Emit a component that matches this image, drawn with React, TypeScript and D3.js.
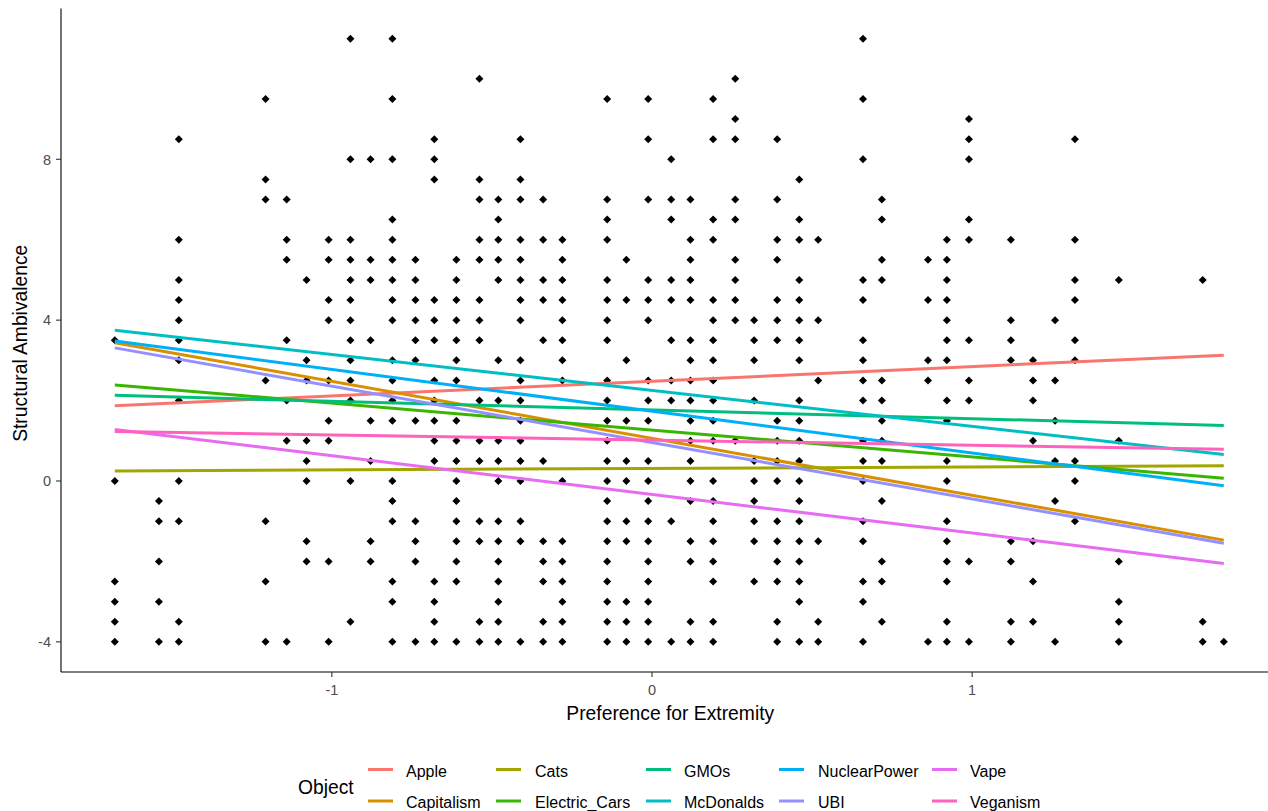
import React from "react";
import * as d3 from "d3";

// ---- Data ----
const objects = ["Apple", "Capitalism", "Cats", "Electric_Cars", "GMOs", "McDonalds", "NuclearPower", "UBI", "Vape", "Veganism"];
const objectColors = ["#F8766D", "#D89000", "#A3A500", "#39B600", "#00BF7D", "#00BFC4", "#00B0F6", "#9590FF", "#E76BF3", "#FF62BC"];

// fitted line endpoints (x range and y at both ends)
const lineXRange = [-1.678, 1.786];
const lineYStart = [1.87, 3.44, 0.25, 2.39, 2.13, 3.75, 3.48, 3.31, 1.28, 1.23];
const lineYEnd = [3.13, -1.47, 0.38, 0.07, 1.38, 0.66, -0.12, -1.55, -2.05, 0.79];

// scatter points: x column values and the y values observed in each column
const pointX = [
  -1.678, -1.540, -1.478, -1.207, -1.141, -1.079, -1.010, -0.942, -0.879, -0.811,
  -0.739, -0.680, -0.611, -0.539, -0.480, -0.411, -0.340, -0.280, -0.140, -0.080,
  -0.012, 0.060, 0.120, 0.191, 0.260, 0.319, 0.391, 0.460, 0.519, 0.659,
  0.718, 0.862, 0.921, 0.990, 1.121, 1.190, 1.259, 1.321, 1.458, 1.720, 1.786,
];
const pointY = [
  [3.5, 0, -2.5, -3, -3.5, -4],
  [-0.5, -1, -2, -3, -4],
  [8.5, 6, 5, 4.5, 4, 3.5, 3, 2, 0, -1, -3.5, -4],
  [9.5, 7.5, 7, 2.5, -1, -2.5, -4],
  [7, 6, 5.5, 3.5, 2, 1, -4],
  [5, 3, 2.5, 1, 0.5, 0, -1.5, -2],
  [6, 5.5, 4.5, 4, 2.5, 1.5, 1, -2, -4],
  [11, 8, 6, 5.5, 5, 4.5, 4, 3.5, 3, 2.5, 2, 0, -3.5],
  [8, 5.5, 5, 3.5, 1.5, 0.5, -1.5, -2],
  [11, 9.5, 8, 6.5, 6, 5.5, 5, 4.5, 4, 3, 2.5, 2, 1.5, 0, -0.5, -1, -2.5, -3, -4],
  [5.5, 5, 4.5, 4, 3.5, 3, 1.5, -1, -1.5, -2, -4],
  [8.5, 8, 7.5, 4.5, 4, 3.5, 2.5, 2, 1.5, 1, 0.5, -2.5, -3, -3.5, -4],
  [5.5, 5, 4.5, 4, 3.5, 3, 2.5, 1.5, 1, 0.5, 0, -0.5, -1, -1.5, -2, -2.5, -4],
  [10, 7.5, 7, 6, 5.5, 4.5, 4, 3.5, 2, 1, 0.5, -1, -1.5, -3.5, -4],
  [7, 6.5, 6, 5.5, 5, 3, 2, 1, 0.5, 0, -1, -1.5, -2, -2.5, -3, -3.5, -4],
  [8.5, 7.5, 7, 6, 5.5, 5, 4.5, 4, 3, 2.5, 2, 1.5, 1, 0.5, 0, -1, -1.5, -4],
  [7, 6, 5, 4.5, 3.5, 0.5, -1.5, -2, -2.5, -3.5, -4],
  [6, 5.5, 5, 4.5, 4, 3.5, 3, 2.5, 0, -1.5, -2, -2.5, -3, -3.5, -4],
  [9.5, 7, 6.5, 6, 5, 4.5, 4, 3.5, 2.5, 2, 1.5, 1, 0.5, 0, -0.5, -1, -1.5, -2, -2.5, -3, -3.5, -4],
  [5.5, 4.5, 3, 1.5, 0.5, 0, -1, -1.5, -3, -3.5, -4],
  [9.5, 8.5, 7, 5, 4.5, 4, 2.5, 2, 1.5, 0.5, 0, -0.5, -1, -1.5, -2, -2.5, -3, -3.5, -4],
  [8, 7, 6.5, 5, 4.5, 3.5, 2.5, 2, -1, -4],
  [7, 6, 5.5, 5, 4.5, 3.5, 3, 2.5, 2, 1.5, 1, 0.5, 0, -0.5, -1.5, -2, -3.5, -4],
  [9.5, 8.5, 6.5, 6, 4.5, 4, 3.5, 3, 2.5, 2, 1.5, 1, 0, -0.5, -1, -1.5, -2, -2.5, -3.5, -4],
  [10, 9, 8.5, 7, 6.5, 5.5, 5, 4.5, 4, 1],
  [4, 3.5, 3, 2, 0.5, 0, -0.5, -1, -1.5, -2.5],
  [8.5, 7, 6, 5.5, 4.5, 4, 3.5, 1.5, 1, 0.5, 0, -1, -1.5, -2, -2.5, -3.5, -4],
  [7.5, 6.5, 6, 5, 4.5, 4, 3.5, 3, 2, 1.5, 1, 0.5, 0, -0.5, -1, -1.5, -2, -2.5, -3, -4],
  [6, 4, 2.5, -1.5, -3.5, -4],
  [11, 9.5, 8, 5, 4.5, 3.5, 3, 2.5, 2, 1, 0.5, 0, -1, -1.5, -2.5, -3, -4],
  [7, 6.5, 5.5, 5, 2.5, 2, 1.5, 1, 0.5, -0.5, -2, -2.5, -3.5],
  [5.5, 4.5, 3, 2.5, -4],
  [6, 5.5, 5, 4.5, 4, 3.5, 3, 2, 1.5, 0.5, 0, -1, -1.5, -2, -2.5, -3.5, -4],
  [9, 8.5, 8, 6.5, 6, 3.5, 2.5, 2, -2, -4],
  [6, 4, 3.5, 3, -1.5, -2, -3.5, -4],
  [3, 2.5, 2, 1, -1.5, -2.5, -3.5],
  [4, 2.5, 1.5, 0.5, -0.5, -4],
  [8.5, 6, 5, 4.5, 3.5, 3, 0.5, 0, -1],
  [5, 1, -2, -3, -3.5, -4],
  [5, -3.5, -4],
  [-4],
];

const xTicks = [-1, 0, 1];
const yTicks = [-4, 0, 4, 8];
const xDomain = [-1.846, 1.96];
const yDomain = [-4.75, 11.75];

const W = 1268;
const H = 811;
const panel = { left: 61, right: 1279.5, top: 8.5, bottom: 672 };

export default function App() {
  const x = d3.scaleLinear().domain(xDomain).range([panel.left, panel.right]);
  const y = d3.scaleLinear().domain(yDomain).range([panel.bottom, panel.top]);
  const font = "'Liberation Sans', Arial, sans-serif";

  const points: { px: number; py: number }[] = [];
  pointX.forEach((xv, i) => {
    pointY[i].forEach((yv) => points.push({ px: x(xv), py: y(yv) }));
  });

  const line = d3
    .line<[number, number]>()
    .x((d) => x(d[0]))
    .y((d) => y(d[1]));

  const r = 4;
  const diamond = `M0,${-r}L${r},0L0,${r}L${-r},0Z`;

  const legendCols = [
    { keyX: 368, textX: 406 },
    { keyX: 496, textX: 535 },
    { keyX: 646, textX: 684 },
    { keyX: 779, textX: 818 },
    { keyX: 932, textX: 970 },
  ];
  const legendRows = [{ keyY: 769.5, textY: 776.5 }, { keyY: 801, textY: 808 }];

  return (
    <div style={{ position: "absolute", left: 0, top: 0 }}>
      <svg width={W} height={H} style={{ display: "block", background: "#fff" }}>
        {/* points */}
        <g>
          {points.map((p, i) => (
            <path key={i} d={diamond} transform={`translate(${p.px},${p.py})`} fill="#000" />
          ))}
        </g>
        {/* fitted lines */}
        <g>
          {objects.map((o, i) => (
            <path
              key={o}
              d={line([
                [lineXRange[0], lineYStart[i]],
                [lineXRange[1], lineYEnd[i]],
              ]) || ""}
              stroke={objectColors[i]}
              strokeWidth={3}
              fill="none"
            />
          ))}
        </g>
        {/* axes */}
        <line x1={panel.left} x2={panel.left} y1={panel.top} y2={panel.bottom} stroke="#000" strokeWidth={1.1} />
        <line x1={panel.left} x2={panel.right} y1={panel.bottom} y2={panel.bottom} stroke="#000" strokeWidth={1.1} />
        {xTicks.map((t) => (
          <g key={t} transform={`translate(${x(t)},${panel.bottom})`}>
            <line y1={0} y2={5} stroke="#333" strokeWidth={1.1} />
            <text y={23} textAnchor="middle" fontSize={14.5} fill="#4D4D4D" fontFamily={font}>
              {t}
            </text>
          </g>
        ))}
        {yTicks.map((t) => (
          <g key={t} transform={`translate(${panel.left},${y(t)})`}>
            <line x1={-5} x2={0} stroke="#333" strokeWidth={1.1} />
            <text x={-10} dy="0.36em" textAnchor="end" fontSize={14.5} fill="#4D4D4D" fontFamily={font}>
              {t}
            </text>
          </g>
        ))}
        <text x={(panel.left + panel.right) / 2} y={720} textAnchor="middle" fontSize={19.3} fill="#000" fontFamily={font}>
          Preference for Extremity
        </text>
        <text
          transform={`translate(27,${(panel.top + panel.bottom) / 2 + 3}) rotate(-90)`}
          textAnchor="middle"
          fontSize={19.3}
          fill="#000"
          fontFamily={font}
        >
          Structural Ambivalence
        </text>
        {/* legend */}
        <text x={298} y={794} fontSize={19.3} fill="#000" fontFamily={font}>
          Object
        </text>
        {objects.map((o, i) => {
          const c = legendCols[Math.floor(i / 2)];
          const rw = legendRows[i % 2];
          return (
            <g key={o}>
              <line x1={c.keyX} x2={c.keyX + 25} y1={rw.keyY} y2={rw.keyY} stroke={objectColors[i]} strokeWidth={3} />
              <text x={c.textX} y={rw.textY} fontSize={16} fill="#000" fontFamily={font}>
                {o}
              </text>
            </g>
          );
        })}
      </svg>
    </div>
  );
}
